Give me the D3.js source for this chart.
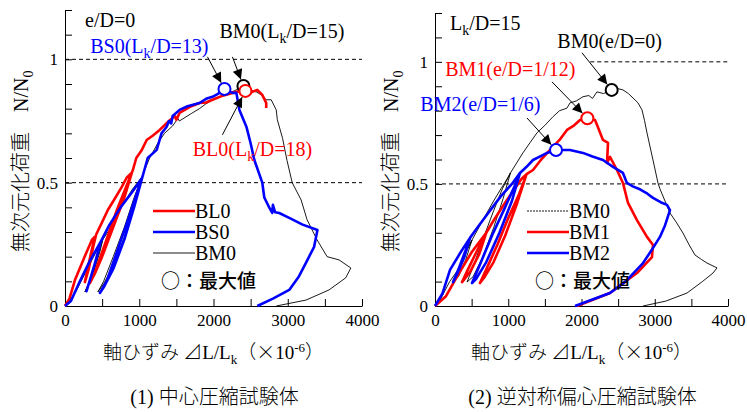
<!DOCTYPE html>
<html>
<head>
<meta charset="utf-8">
<script src="https://cdn.jsdelivr.net/npm/d3@7"></script>
<style>
  body { margin: 0; background: #fff; }
  svg text { font-family: "Liberation Serif", "Times New Roman", serif; }
  .jp { font-family: "Noto Sans CJK JP", sans-serif; }
</style>
</head>
<body>
<div id="root"></div>
<script>
// ---- data: [axial strain (x10^-6), N/N0] ----
const BM0_center = [[0,0],[60,0.02],[150,0.06],[300,0.15],[420,0.22],[510,0.27],
  [440,0.2],[360,0.12],[300,0.08],[268,0.057],[320,0.09],[400,0.15],[470,0.22],[510,0.27],
  [600,0.31],[700,0.37],[800,0.42],[900,0.47],[1030,0.52],
  [920,0.4],[800,0.28],[650,0.16],[520,0.09],[443,0.057],[520,0.1],[650,0.2],[800,0.32],[920,0.43],[1030,0.52],
  [1140,0.6],[1250,0.66],[1340,0.7],[1450,0.73],[1520,0.76],[1540,0.75],[1700,0.78],[1810,0.8],[1900,0.82],
  [2013,0.84],[2100,0.85],[2150,0.87],[2190,0.86],[2300,0.875],[2403,0.892],[2500,0.875],[2576,0.868],
  [2650,0.855],[2710,0.836],[2777,0.836],[2845,0.795],[2860,0.755],[2930,0.68],[2990,0.59],[3060,0.5],
  [3180,0.43],[3260,0.35],[3395,0.268],[3530,0.2],[3690,0.187],[3850,0.154],[3780,0.114],[3555,0.065],
  [3245,0.024],[2845,0]];
const BL0 = [[0,0],[60,0.03],[134,0.105],[250,0.19],[362,0.268],[400,0.28],
  [340,0.2],[290,0.13],[268,0.097],[320,0.15],[380,0.24],[420,0.29],
  [500,0.34],[577,0.389],[680,0.44],[765,0.483],[830,0.52],[900,0.54],
  [800,0.44],[650,0.32],[500,0.2],[400,0.13],[335,0.093],[420,0.15],[560,0.27],[700,0.39],[820,0.48],[913,0.55],
  [960,0.6],[1030,0.63],[1100,0.673],[1180,0.69],[1275,0.714],[1400,0.75],[1480,0.77],[1500,0.755],[1543,0.783],
  [1700,0.81],[1812,0.823],[1900,0.825],[1986,0.836],[2100,0.85],[2255,0.864],[2330,0.87],[2430,0.872],
  [2523,0.868],[2590,0.876],[2657,0.856],[2710,0.823],[2710,0.803]];
const BS0 = [[0,0],[80,0.02],[200,0.1],[330,0.18],[480,0.26],
  [400,0.17],[330,0.1],[290,0.06],[350,0.12],[420,0.19],[480,0.26],
  [600,0.33],[750,0.4],[900,0.46],[1040,0.52],
  [930,0.4],[800,0.27],[650,0.15],[530,0.08],[470,0.053],[560,0.1],[700,0.22],[850,0.35],[960,0.45],[1040,0.52],
  [1114,0.6],[1235,0.633],[1300,0.7],[1369,0.727],[1400,0.75],[1430,0.74],[1450,0.77],[1543,0.795],[1650,0.81],
  [1812,0.823],[1900,0.84],[1986,0.848],[2060,0.86],[2148,0.88],[2255,0.864],[2308,0.864],[2349,0.795],
  [2443,0.727],[2500,0.66],[2550,0.592],[2657,0.5],[2684,0.44],[2750,0.4],[2791,0.377],[2800,0.41],
  [2830,0.38],[2885,0.377],[3020,0.357],[3200,0.33],[3400,0.308],[3355,0.24],[3245,0.175],[3150,0.12],
  [3020,0.065],[2800,0.03],[2590,0]];

const BM0_ecc = [[0,0],[80,0.03],[200,0.1],[314,0.148],[420,0.22],[505,0.27],
  [420,0.19],[320,0.12],[246,0.098],[320,0.15],[420,0.22],[505,0.27],
  [650,0.35],[800,0.43],[900,0.48],[983,0.52],[1030,0.545],
  [930,0.44],[800,0.32],[650,0.2],[520,0.12],[437,0.098],[520,0.16],[650,0.27],[800,0.39],[920,0.48],[1030,0.545],
  [1200,0.627],[1300,0.67],[1392,0.709],[1500,0.74],[1610,0.775],[1700,0.8],[1800,0.81],[1843,0.832],[1930,0.84],
  [2020,0.857],[2100,0.862],[2150,0.85],[2211,0.877],[2300,0.87],[2412,0.885],[2500,0.89],[2566,0.885],
  [2640,0.87],[2703,0.852],[2771,0.832],[2826,0.803],[2860,0.76],[2894,0.709],[2976,0.598],[3044,0.504],
  [3071,0.48],[3140,0.43],[3208,0.381],[3300,0.34],[3385,0.299],[3470,0.25],[3549,0.209],[3640,0.19],
  [3713,0.176],[3850,0.156],[3795,0.135],[3650,0.1],[3440,0.053],[3150,0.02],[2840,0]];
const BM1 = [[0,0],[150,0.04],[300,0.12],[500,0.22],[700,0.3],
  [600,0.21],[480,0.14],[369,0.098],[450,0.15],[580,0.23],[700,0.3],
  [800,0.35],[950,0.42],[1065,0.47],[1180,0.52],[1250,0.54],
  [1120,0.42],[960,0.29],[800,0.18],[680,0.12],[614,0.094],[700,0.15],[850,0.25],[1000,0.36],[1150,0.46],[1250,0.54],
  [1338,0.557],[1450,0.6],[1570,0.639],[1700,0.68],[1802,0.721],[1900,0.74],[1980,0.762],[2080,0.769],
  [2184,0.762],[2211,0.742],[2293,0.68],[2362,0.668],[2348,0.586],[2389,0.611],[2484,0.557],[2566,0.504],
  [2635,0.422],[2757,0.352],[2894,0.283],[2976,0.25],[2962,0.2],[2757,0.135],[2389,0.053],[1938,0]];
const BM2 = [[0,0],[100,0.05],[205,0.148],[350,0.22],[480,0.28],
  [400,0.2],[300,0.13],[246,0.098],[320,0.15],[420,0.23],[480,0.28],
  [600,0.33],[750,0.39],[900,0.45],[1050,0.5],[1160,0.545],
  [1050,0.43],[880,0.3],[700,0.18],[560,0.11],[505,0.094],[600,0.16],[780,0.29],[950,0.4],[1100,0.5],[1160,0.545],
  [1250,0.57],[1338,0.598],[1450,0.615],[1529,0.627],[1652,0.639],[1843,0.639],[2020,0.627],[2150,0.612],
  [2293,0.598],[2430,0.57],[2566,0.545],[2620,0.504],[2700,0.49],[2798,0.478],[2900,0.46],[2976,0.443],
  [3080,0.425],[3167,0.414],[3208,0.393],[3140,0.33],[3071,0.283],[2960,0.23],[2840,0.176],[2600,0.1],
  [2389,0.053],[1911,0]];

// peak markers
const peaksCenter = [
  { name: "BM0", x: 2403, y: 0.892, color: "#000" },
  { name: "BL0", x: 2430, y: 0.872, color: "#ff0000" },
  { name: "BS0", x: 2148, y: 0.880, color: "#0000ff" }
];
const peaksEcc = [
  { name: "BM0", x: 2412, y: 0.885, color: "#000" },
  { name: "BM1", x: 2080, y: 0.769, color: "#ff0000" },
  { name: "BM2", x: 1652, y: 0.639, color: "#0000ff" }
];

const xTicks = d3.range(0, 4001, 500);
const yTicks = d3.range(0, 1.21, 0.1).map(d => +d.toFixed(1));

const svg = d3.select('#root')
  .append('svg')
  .attr('width', 747)
  .attr('height', 412);

svg.append('defs').append('marker')
  .attr('id', 'arr')
  .attr('viewBox', '0 0 10 10')
  .attr('refX', 10).attr('refY', 5)
  .attr('markerWidth', 12).attr('markerHeight', 10)
  .attr('markerUnits', 'userSpaceOnUse')
  .attr('orient', 'auto')
  .append('path').attr('d', 'M0,0L10,5L0,10Z').attr('fill', '#000');

function panel(opt) {
  const x = d3.scaleLinear().domain([0, 4000]).range(opt.xr);
  const y = d3.scaleLinear().domain([0, 1.2]).range(opt.yr);
  const g = svg.append('g');

  // reference dashed lines
  g.selectAll('line.ref')
    .data(opt.refs)
    .enter()
    .append('line')
    .attr('x1', d => x(d.from)).attr('x2', x(4000))
    .attr('y1', d => y(d.v)).attr('y2', d => y(d.v))
    .attr('stroke', '#000').attr('stroke-width', 1)
    .attr('stroke-dasharray', '4,3');

  const yAxis = d3.axisLeft(y)
    .tickValues(yTicks)
    .tickSizeInner(-7).tickSizeOuter(0).tickPadding(7)
    .tickFormat(d => (d === 0 || d === 0.5 || d === 1) ? String(d) : '');
  const xAxis = d3.axisBottom(x)
    .tickValues(xTicks)
    .tickSizeInner(-7).tickSizeOuter(0).tickPadding(8)
    .tickFormat(d => d % 1000 === 0 ? String(d) : '');

  const ya = g.append('g').attr('transform', `translate(${opt.xr[0]},0)`).call(yAxis);
  const xa = g.append('g').attr('transform', `translate(0,${opt.yr[0]})`).call(xAxis);
  [ya, xa].forEach(a => {
    a.attr('font-family', null);
    a.selectAll('text').attr('font-size', 17).attr('fill', '#000');
    a.selectAll('line, path').attr('stroke', '#000').attr('stroke-width', 1);
  });

  const line = d3.line().x(d => x(d[0])).y(d => y(d[1]));
  opt.series.forEach(s => {
    g.append('path')
      .attr('d', line(s.data))
      .attr('fill', 'none')
      .attr('stroke', s.color)
      .attr('stroke-width', s.width)
      .attr('stroke-linejoin', 'round');
  });

  // arrows to peaks
  opt.notes.forEach(n => {
    const p = opt.peaks.find(q => q.name === n.peak);
    const x1 = x(n.ax), y1 = y(n.ay), x2 = x(p.x), y2 = y(p.y);
    const len = Math.hypot(x2 - x1, y2 - y1);
    const k = (len - 7) / len;
    g.append('line')
      .attr('x1', x1).attr('y1', y1)
      .attr('x2', x1 + (x2 - x1) * k).attr('y2', y1 + (y2 - y1) * k)
      .attr('stroke', '#000').attr('stroke-width', 1)
      .attr('marker-end', 'url(#arr)');
  });

  g.selectAll('circle.peak')
    .data(opt.peaks)
    .enter()
    .append('circle')
    .attr('cx', d => x(d.x)).attr('cy', d => y(d.y))
    .attr('r', 6)
    .attr('fill', '#fff')
    .attr('stroke', d => d.color)
    .attr('stroke-width', 2);

  // annotation labels
  opt.notes.forEach(n => {
    const t = g.append('text')
      .attr('x', x(n.tx)).attr('y', y(n.ty))
      .attr('font-size', 20).attr('fill', n.color);
    n.parts.forEach(p => {
      const ts = t.append('tspan').text(p[0]);
      if (p[1] === 'sub') ts.attr('font-size', 14).attr('dy', 5);
      if (p[1] === 'up') ts.attr('dy', -5);
    });
  });

  // corner label
  const c = g.append('text')
    .attr('x', opt.xr[0] + opt.corner.dx).attr('y', opt.yr[1] + 17)
    .attr('font-size', 20).attr('fill', '#000');
  opt.corner.parts.forEach(p => {
    const ts = c.append('tspan').text(p[0]);
    if (p[1] === 'sub') ts.attr('font-size', 14).attr('dy', 5);
    if (p[1] === 'up') ts.attr('dy', -5);
  });

  // legend
  const lg = g.append('g');
  opt.series.slice().sort((a, b) => a.lorder - b.lorder).forEach((s, i) => {
    const ly = 211 + i * 21;
    lg.append('line')
      .attr('x1', opt.legX).attr('x2', opt.legX + 42)
      .attr('y1', ly).attr('y2', ly)
      .attr('stroke', s.color).attr('stroke-width', s.width)
      .attr('stroke-dasharray', s.legDash || null);
    lg.append('text')
      .attr('x', opt.legX + 42).attr('y', ly + 7)
      .attr('font-size', 20).attr('fill', '#000')
      .text(s.name);
  });
  lg.append('text')
    .attr('class', 'jp')
    .attr('x', opt.legX + 8).attr('y', 288)
    .attr('font-size', 19).attr('font-weight', 500).attr('fill', '#000')
    .text('○：最大値');

  // axis titles
  const cx = (opt.xr[0] + opt.xr[1]) / 2;
  const xl = g.append('text')
    .attr('x', cx).attr('y', 359)
    .attr('text-anchor', 'middle').attr('font-size', 19).attr('fill', '#000');
  xl.append('tspan').attr('class', 'jp').attr('font-weight', 300).text('軸ひずみ ⊿');
  xl.append('tspan').text('L/L');
  xl.append('tspan').attr('font-size', 13).attr('dy', 5).text('k');
  xl.append('tspan').attr('class', 'jp').attr('font-weight', 300).attr('dy', -5).text('（×');
  xl.append('tspan').text('10');
  xl.append('tspan').attr('font-size', 13).attr('dy', -7).text('-6');
  xl.append('tspan').attr('class', 'jp').attr('font-weight', 300).attr('dy', 7).text('）');

  const yl = g.append('text')
    .attr('transform', `translate(${opt.xr[0] - 37},252) rotate(-90)`)
    .attr('font-size', 20).attr('fill', '#000');
  yl.append('tspan').attr('class', 'jp').attr('font-weight', 300).text('無次元化荷重　');
  yl.append('tspan').text('N/N');
  yl.append('tspan').attr('font-size', 14).attr('dy', 5).text('0');

  const tt = g.append('text')
    .attr('x', cx + 1).attr('y', 404)
    .attr('text-anchor', 'middle').attr('font-size', 20).attr('fill', '#000');
  tt.append('tspan').text(opt.title[0]);
  tt.append('tspan').attr('class', 'jp').attr('font-weight', 300).text(opt.title[1]);
}

panel({
  xr: [65, 362], yr: [306, 10],
  refs: [{ v: 1, from: 0 }, { v: 0.5, from: 0 }],
  series: [
    { name: 'BM0', data: BM0_center, color: '#000', width: 0.9, lorder: 3 },
    { name: 'BL0', data: BL0, color: '#ff0000', width: 2.6, lorder: 1 },
    { name: 'BS0', data: BS0, color: '#0000ff', width: 2.6, lorder: 2 }
  ],
  peaks: peaksCenter,
  notes: [
    { peak: 'BM0', ax: 2255, ay: 1.01, tx: 2080, ty: 1.085, color: '#000',
      parts: [['BM0(L'], ['k', 'sub'], ['/D=15)', 'up']] },
    { peak: 'BS0', ax: 1919, ay: 1.01, tx: 340, ty: 1.025, color: '#0000ff',
      parts: [['BS0(L'], ['k', 'sub'], ['/D=13)', 'up']] },
    { peak: 'BL0', ax: 2120, ay: 0.694, tx: 1720, ty: 0.61, color: '#ff0000',
      parts: [['BL0(L'], ['k', 'sub'], ['/D=18)', 'up']] }
  ],
  corner: { dx: 20, parts: [['e/D=0']] },
  legX: 153,
  title: ['(1) ', '中心圧縮試験体']
});

panel({
  xr: [435, 728], yr: [306, 13],
  refs: [{ v: 1, from: 2120 }, { v: 0.5, from: 0 }],
  series: [
    { name: 'BM0', data: BM0_ecc, color: '#000', width: 0.9, lorder: 1, legDash: '2,1' },
    { name: 'BM1', data: BM1, color: '#ff0000', width: 2.6, lorder: 2 },
    { name: 'BM2', data: BM2, color: '#0000ff', width: 2.6, lorder: 3 }
  ],
  peaks: peaksEcc,
  notes: [
    { peak: 'BM0', ax: 2007, ay: 1.037, tx: 1670, ty: 1.055, color: '#000',
      parts: [['BM0(e/D=0)']] },
    { peak: 'BM1', ax: 1597, ay: 0.918, tx: 140, ty: 0.94, color: '#ff0000',
      parts: [['BM1(e/D=1/12)']] },
    { peak: 'BM2', ax: 1256, ay: 0.77, tx: -200, ty: 0.8, color: '#0000ff',
      parts: [['BM2(e/D=1/6)']] }
  ],
  corner: { dx: 15, parts: [['L'], ['k', 'sub'], ['/D=15', 'up']] },
  legX: 527,
  title: ['(2) ', '逆対称偏心圧縮試験体']
});
</script>
</body>
</html>
